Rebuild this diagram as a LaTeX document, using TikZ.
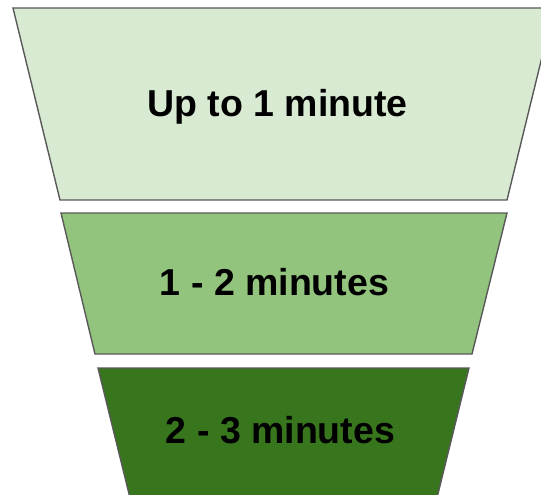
\documentclass[tikz,border=0pt]{standalone}
\usepackage{fontspec}
\setmainfont{Liberation Sans}
\usetikzlibrary{positioning}

\definecolor{paleGreen}{HTML}{D9EAD3}
\definecolor{midGreen}{HTML}{93C47D}
\definecolor{deepGreen}{HTML}{38761D}
\definecolor{edgeGray}{HTML}{595959}

\begin{document}
\begin{tikzpicture}[
    x=1pt, y=-1pt,
    band/.style={draw=edgeGray, line width=1.4pt, line join=miter},
    lbl/.style={anchor=base, inner sep=0pt,
                font=\fontsize{37.5}{42}\selectfont\bfseries}
  ]
  \useasboundingbox (0,0) rectangle (541,495);
  \clip (0,0) rectangle (541,495);

  % funnel bands, widest first
  \filldraw[band, fill=paleGreen] (13,8) -- (554,8) -- (507,200) -- (60,200) -- cycle;
  \filldraw[band, fill=midGreen] (61,213) -- (507,213) -- (472,354) -- (95,354) -- cycle;
  \filldraw[band, fill=deepGreen] (98,368) -- (469,368) -- (434,510) -- (133,510) -- cycle;

  % band labels
  \node[lbl] (short) at (277.5,117) {Up to 1 minute};
  \node[lbl] (medium) at (274.5,295) {1 - 2 minutes};
  \node[lbl] (long) at (280.5,443) {2 - 3 minutes};
\end{tikzpicture}
\end{document}
